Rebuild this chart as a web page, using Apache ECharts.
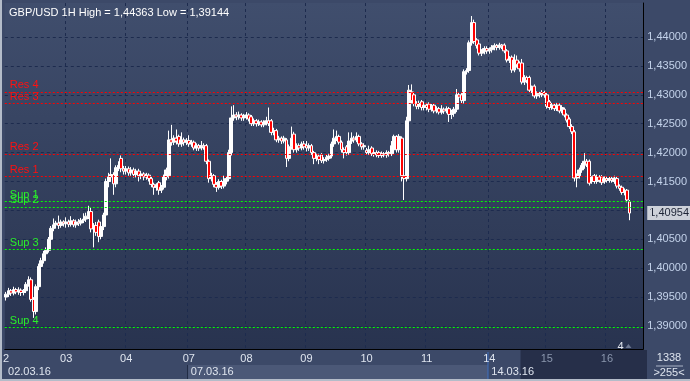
<!DOCTYPE html>
<html><head><meta charset="utf-8">
<script src="https://cdn.jsdelivr.net/npm/echarts@6/dist/echarts.min.js"></script>
<style>html,body{margin:0;padding:0;background:#3c4968;overflow:hidden}#c{width:690px;height:381px}</style>
</head><body><div id="c"></div>
<script>
// ---- data ----
const dayNames = ['02','03','04','07','08','09','10','11','14','15','16'];
const dayHours = [24,24,25,23,24,24,24,25,23,24,10];
const weekLabels = ['02.03.16','07.03.16','14.03.16'];
const weekDayIdx = [0,3,8];
const blankSlots = 5;

// each candle: [open, close, low, high]
const day02 = [[1.3950,1.3955,1.3944,1.3959],[1.3955,1.3961,1.3950,1.3966],[1.3961,1.3957,1.3952,1.3964],[1.3957,1.3963,1.3953,1.3968],[1.3963,1.3959,1.3955,1.3966],[1.3959,1.3962,1.3954,1.3967],[1.3962,1.3958,1.3952,1.3965],[1.3958,1.3961,1.3953,1.3964],[1.3961,1.3972,1.3957,1.3976],[1.3972,1.3980,1.3968,1.3986],[1.3980,1.3946,1.3942,1.3984],[1.3946,1.3925,1.3914,1.3950],[1.3925,1.3968,1.3920,1.3972],[1.3968,1.4003,1.3962,1.4008],[1.4003,1.4013,1.3998,1.4018],[1.4013,1.4025,1.4008,1.4030],[1.4025,1.4031,1.4020,1.4036],[1.4031,1.4050,1.4027,1.4054],[1.4050,1.4069,1.4046,1.4073],[1.4069,1.4075,1.4064,1.4086],[1.4075,1.4078,1.4070,1.4082],[1.4078,1.4074,1.4068,1.4091],[1.4074,1.4080,1.4070,1.4084],[1.4080,1.4077,1.4072,1.4083]];
const day03 = [[1.4077,1.4080,1.4070,1.4088],[1.4080,1.4076,1.4071,1.4084],[1.4076,1.4082,1.4072,1.4090],[1.4082,1.4075,1.4071,1.4085],[1.4075,1.4080,1.4070,1.4084],[1.4080,1.4078,1.4073,1.4085],[1.4078,1.4083,1.4074,1.4087],[1.4083,1.4085,1.4078,1.4095],[1.4085,1.4090,1.4080,1.4096],[1.4090,1.4098,1.4085,1.4108],[1.4098,1.4068,1.4062,1.4105],[1.4068,1.4074,1.4036,1.4078],[1.4074,1.4062,1.4056,1.4080],[1.4080,1.4055,1.4045,1.4084],[1.4055,1.4072,1.4050,1.4076],[1.4072,1.4092,1.4066,1.4096],[1.4092,1.4150,1.4088,1.4155],[1.4150,1.4158,1.4140,1.4165],[1.4158,1.4162,1.4150,1.4190],[1.4162,1.4146,1.4127,1.4166],[1.4146,1.4174,1.4140,1.4178],[1.4174,1.4178,1.4168,1.4185],[1.4190,1.4172,1.4166,1.4195],[1.4172,1.4168,1.4162,1.4177]];
const day04 = [[1.4168,1.4172,1.4162,1.4177],[1.4172,1.4165,1.4160,1.4176],[1.4165,1.4170,1.4160,1.4175],[1.4170,1.4162,1.4157,1.4174],[1.4162,1.4168,1.4157,1.4172],[1.4168,1.4160,1.4150,1.4172],[1.4160,1.4163,1.4154,1.4167],[1.4163,1.4158,1.4152,1.4166],[1.4158,1.4161,1.4153,1.4165],[1.4161,1.4155,1.4150,1.4164],[1.4155,1.4145,1.4140,1.4158],[1.4145,1.4140,1.4127,1.4148],[1.4140,1.4143,1.4134,1.4147],[1.4148,1.4135,1.4127,1.4151],[1.4135,1.4140,1.4130,1.4144],[1.4140,1.4158,1.4136,1.4162],[1.4158,1.4170,1.4152,1.4174],[1.4160,1.4222,1.4155,1.4238],[1.4222,1.4218,1.4212,1.4248],[1.4218,1.4225,1.4213,1.4230],[1.4225,1.4220,1.4214,1.4240],[1.4228,1.4215,1.4210,1.4231],[1.4215,1.4222,1.4210,1.4235],[1.4222,1.4218,1.4212,1.4226],[1.4218,1.4221,1.4213,1.4225]];
const day07 = [[1.4221,1.4215,1.4210,1.4230],[1.4215,1.4218,1.4210,1.4222],[1.4218,1.4208,1.4204,1.4221],[1.4208,1.4212,1.4203,1.4216],[1.4212,1.4208,1.4203,1.4215],[1.4208,1.4212,1.4204,1.4220],[1.4212,1.4210,1.4205,1.4216],[1.4212,1.4185,1.4180,1.4215],[1.4185,1.4155,1.4148,1.4188],[1.4155,1.4160,1.4150,1.4165],[1.4160,1.4145,1.4140,1.4163],[1.4145,1.4140,1.4132,1.4149],[1.4140,1.4150,1.4136,1.4154],[1.4150,1.4142,1.4137,1.4153],[1.4142,1.4150,1.4138,1.4160],[1.4150,1.4155,1.4145,1.4159],[1.4155,1.4200,1.4150,1.4205],[1.4200,1.4260,1.4195,1.4280],[1.4260,1.4265,1.4255,1.4282],[1.4265,1.4262,1.4256,1.4270],[1.4262,1.4265,1.4257,1.4271],[1.4265,1.4260,1.4255,1.4268],[1.4260,1.4262,1.4255,1.4267]];
const day08 = [[1.4262,1.4265,1.4257,1.4270],[1.4265,1.4258,1.4254,1.4268],[1.4262,1.4250,1.4246,1.4265],[1.4250,1.4255,1.4246,1.4259],[1.4255,1.4250,1.4245,1.4258],[1.4250,1.4253,1.4246,1.4257],[1.4253,1.4248,1.4244,1.4256],[1.4248,1.4252,1.4244,1.4256],[1.4252,1.4255,1.4247,1.4262],[1.4255,1.4250,1.4246,1.4278],[1.4255,1.4235,1.4230,1.4258],[1.4235,1.4238,1.4230,1.4243],[1.4238,1.4222,1.4218,1.4241],[1.4222,1.4225,1.4217,1.4229],[1.4225,1.4220,1.4215,1.4228],[1.4220,1.4225,1.4216,1.4229],[1.4222,1.4190,1.4175,1.4225],[1.4190,1.4210,1.4185,1.4214],[1.4210,1.4225,1.4205,1.4245],[1.4232,1.4205,1.4200,1.4236],[1.4205,1.4212,1.4200,1.4216],[1.4212,1.4208,1.4203,1.4216],[1.4208,1.4215,1.4204,1.4219],[1.4215,1.4210,1.4205,1.4220]];
const day09 = [[1.4212,1.4208,1.4202,1.4220],[1.4208,1.4212,1.4203,1.4216],[1.4212,1.4200,1.4196,1.4215],[1.4200,1.4190,1.4180,1.4203],[1.4190,1.4194,1.4185,1.4198],[1.4194,1.4188,1.4180,1.4198],[1.4196,1.4186,1.4182,1.4199],[1.4186,1.4188,1.4181,1.4192],[1.4188,1.4192,1.4184,1.4196],[1.4190,1.4194,1.4186,1.4198],[1.4194,1.4215,1.4190,1.4219],[1.4215,1.4225,1.4210,1.4240],[1.4225,1.4228,1.4220,1.4238],[1.4228,1.4218,1.4214,1.4231],[1.4218,1.4205,1.4200,1.4221],[1.4205,1.4200,1.4190,1.4209],[1.4210,1.4200,1.4195,1.4213],[1.4200,1.4220,1.4196,1.4235],[1.4220,1.4225,1.4215,1.4235],[1.4225,1.4222,1.4217,1.4229],[1.4222,1.4228,1.4218,1.4235],[1.4228,1.4215,1.4211,1.4231],[1.4215,1.4210,1.4205,1.4218],[1.4210,1.4212,1.4205,1.4216]];
const day10 = [[1.4204,1.4200,1.4196,1.4208],[1.4200,1.4205,1.4196,1.4212],[1.4208,1.4198,1.4194,1.4211],[1.4198,1.4200,1.4193,1.4204],[1.4200,1.4196,1.4192,1.4204],[1.4200,1.4195,1.4191,1.4203],[1.4195,1.4198,1.4191,1.4202],[1.4198,1.4196,1.4192,1.4201],[1.4196,1.4200,1.4191,1.4204],[1.4200,1.4198,1.4193,1.4203],[1.4198,1.4212,1.4194,1.4220],[1.4205,1.4228,1.4200,1.4231],[1.4228,1.4205,1.4200,1.4230],[1.4205,1.4228,1.4200,1.4232],[1.4225,1.4160,1.4150,1.4228],[1.4160,1.4155,1.4118,1.4164],[1.4155,1.4255,1.4150,1.4262],[1.4255,1.4308,1.4250,1.4317],[1.4305,1.4290,1.4285,1.4318],[1.4300,1.4285,1.4280,1.4304],[1.4285,1.4280,1.4275,1.4289],[1.4280,1.4285,1.4275,1.4290],[1.4288,1.4278,1.4273,1.4291],[1.4278,1.4282,1.4273,1.4286]];
const day11 = [[1.4282,1.4278,1.4273,1.4286],[1.4284,1.4275,1.4270,1.4287],[1.4275,1.4280,1.4271,1.4284],[1.4282,1.4272,1.4268,1.4285],[1.4272,1.4276,1.4268,1.4280],[1.4276,1.4270,1.4266,1.4279],[1.4270,1.4275,1.4266,1.4282],[1.4275,1.4272,1.4267,1.4278],[1.4272,1.4276,1.4268,1.4280],[1.4276,1.4266,1.4253,1.4279],[1.4266,1.4270,1.4258,1.4274],[1.4268,1.4275,1.4262,1.4279],[1.4275,1.4300,1.4270,1.4310],[1.4300,1.4296,1.4290,1.4304],[1.4300,1.4290,1.4285,1.4303],[1.4290,1.4340,1.4285,1.4344],[1.4340,1.4342,1.4335,1.4346],[1.4342,1.4390,1.4338,1.4394],[1.4390,1.4425,1.4385,1.44363],[1.4425,1.4392,1.4388,1.4430],[1.4395,1.4385,1.4380,1.4398],[1.4388,1.4372,1.4368,1.4390],[1.4372,1.4375,1.4367,1.4379],[1.4375,1.4380,1.4370,1.4384],[1.4380,1.4376,1.4371,1.4384]];
const day14 = [[1.4376,1.4378,1.4371,1.4382],[1.4378,1.4382,1.4373,1.4386],[1.4382,1.4385,1.4377,1.4389],[1.4385,1.4382,1.4377,1.4388],[1.4382,1.4386,1.4378,1.4390],[1.4386,1.4384,1.4379,1.4388],[1.4386,1.4376,1.4372,1.4389],[1.4376,1.4360,1.4356,1.4379],[1.4360,1.4362,1.4355,1.4367],[1.4365,1.4343,1.4338,1.4368],[1.4343,1.4360,1.4339,1.4370],[1.4360,1.4352,1.4347,1.4368],[1.4355,1.4345,1.4340,1.4358],[1.4355,1.4322,1.4318,1.4362],[1.4322,1.4330,1.4317,1.4334],[1.4330,1.4325,1.4320,1.4333],[1.4330,1.4308,1.4303,1.4333],[1.4308,1.4312,1.4303,1.4316],[1.4315,1.4298,1.4294,1.4318],[1.4298,1.4302,1.4293,1.4306],[1.4302,1.4300,1.4295,1.4305],[1.4300,1.4304,1.4296,1.4308],[1.4304,1.4300,1.4295,1.4307]];
const day15 = [[1.4300,1.4280,1.4276,1.4303],[1.4288,1.4278,1.4274,1.4291],[1.4278,1.4282,1.4274,1.4286],[1.4282,1.4276,1.4272,1.4285],[1.4276,1.4282,1.4272,1.4286],[1.4282,1.4272,1.4268,1.4285],[1.4272,1.4278,1.4268,1.4282],[1.4275,1.4265,1.4261,1.4278],[1.4265,1.4256,1.4252,1.4268],[1.4258,1.4245,1.4241,1.4261],[1.4245,1.4236,1.4232,1.4249],[1.4236,1.4156,1.4150,1.4239],[1.4156,1.4160,1.4140,1.4164],[1.4160,1.4170,1.4155,1.4174],[1.4170,1.4178,1.4165,1.4182],[1.4178,1.4185,1.4172,1.4199],[1.4185,1.4180,1.4175,1.4189],[1.4185,1.4147,1.4143,1.4188],[1.4150,1.4155,1.4146,1.4159],[1.4160,1.4150,1.4146,1.4163],[1.4150,1.4158,1.4146,1.4162],[1.4158,1.4152,1.4148,1.4161],[1.4158,1.4148,1.4144,1.4161],[1.4150,1.4155,1.4146,1.4159]];
const day16 = [[1.4155,1.4152,1.4148,1.4159],[1.4152,1.4155,1.4148,1.4159],[1.4155,1.4152,1.4148,1.4158],[1.4150,1.4156,1.4146,1.4160],[1.4155,1.4142,1.4138,1.4158],[1.4142,1.4138,1.4134,1.4145],[1.4140,1.4131,1.4127,1.4143],[1.4131,1.4134,1.4126,1.4138],[1.4135,1.4118,1.4114,1.4137],[1.4115,1.40954,1.4083,1.4118]];

const resNames = ['Res 4','Res 3','Res 2','Res 1'];
const resValues = [1.4305,1.4285,1.4198,1.4159];
const supNames = ['Sup 1','Sup 2','Sup 3','Sup 4'];
const supValues = [1.4116,1.4106,1.4033,1.3897];
const priceTicks = [1.39,1.395,1.40,1.405,1.41,1.415,1.42,1.425,1.43,1.435,1.44];
const priceLabels = [1.39,1.395,1.40,1.405,1.415,1.42,1.425,1.43,1.435,1.44];
const lastPrice = 1.40954;
const titleText = 'GBP/USD 1H High = 1,44363 Low = 1,39144';
const cornerTop = '1338', cornerBottom = '>255<';
const yMin = 1.386021, yMax = 1.445882;

// ---- build ----
const days = [day02,day03,day04,day07,day08,day09,day10,day11,day14,day15,day16];
const candles = [].concat(...days);
const categories = [];
const dayStart = {};
let idx = 0;
dayNames.forEach((d, k) => {
  dayStart[idx] = k;
  for (let h = 0; h < dayHours[k]; h++) { categories.push(d + ' ' + h); idx++; }
});
for (let b = 0; b < blankSlots; b++) categories.push('');
const dayStartIdx = Object.keys(dayStart).map(Number);
const weekStart = {};
weekDayIdx.forEach((k, w) => { weekStart[dayStartIdx[k]] = weekLabels[w]; });
const darkFrom = 206; // category where greyed zone starts

const FONT = "'Liberation Sans Narrow','Liberation Sans',Arial,sans-serif";
const fmt = v => v.toFixed(5).replace('.', ',');

const chart = echarts.init(document.getElementById('c'), null, {renderer: 'canvas'});
const mk = (names, vals, lineColor, textColor) => names.map((n, i) => ({
  name: n, yAxis: vals[i],
  lineStyle: {color: lineColor, type: [2, 2], width: 1, opacity: 1},
  label: {show: true, position: 'insideStartTop', formatter: '{b}', color: textColor,
          fontSize: 11, fontFamily: "'Liberation Sans',Arial,sans-serif", distance: [5, 1]}
}));

chart.setOption({
  animation: false,
  backgroundColor: '#3c4968',
  title: {text: titleText, left: 4, top: 2,
          textStyle: {color: '#ffffff', fontSize: 11, fontWeight: 'normal', fontFamily: FONT}},
  grid: {left: 3, right: 43, top: 3, bottom: 32, show: true, borderWidth: 0,
         backgroundColor: {type: 'linear', x: 0, y: 0, x2: 0, y2: 1,
           colorStops: [{offset: 0, color: '#404e6d'}, {offset: 1, color: '#28334f'}]}},
  xAxis: [{
    type: 'category', data: categories, boundaryGap: true,
    axisLine: {show: true, lineStyle: {color: '#000000', width: 1}},
    axisTick: {show: false},
    axisLabel: {
      interval: i => dayStart[i] !== undefined,
      formatter: (v, i) => {
        const k = dayStart[i];
        if (k === undefined) return '';
        const t = i === 0 ? dayNames[k].slice(1) : dayNames[k];
        return i >= darkFrom ? '{dim|' + t + '}' : t;
      },
      color: '#dfe5ef', fontSize: 11, fontFamily: FONT, margin: 4,
      rich: {dim: {color: '#8a96ad', fontSize: 11, fontFamily: FONT}}
    },
    splitLine: {show: true, interval: i => i > 0 && dayStart[i] !== undefined,
                lineStyle: {color: '#1d2b4e', type: [3, 3], width: 1}}
  }, {
    type: 'category', data: categories, boundaryGap: true, position: 'bottom', offset: 12,
    axisLine: {show: false}, axisTick: {show: false}, splitLine: {show: false},
    axisLabel: {
      interval: i => weekStart[i] !== undefined,
      formatter: (v, i) => weekStart[i] || '',
      align: 'left', padding: [0, 0, 0, 2],
      color: '#dfe5ef', fontSize: 11, fontFamily: FONT, margin: 5
    }
  }],
  yAxis: {
    type: 'value', position: 'right', min: yMin, max: yMax, scale: true,
    axisLine: {show: true, lineStyle: {color: '#000000', width: 1}},
    axisTick: {show: false, customValues: priceTicks},
    axisLabel: {customValues: priceLabels, formatter: fmt, color: '#c3d2ea',
                fontSize: 11, fontFamily: FONT, margin: 4},
    splitLine: {show: true, lineStyle: {color: '#1d2b4e', type: [3, 3], width: 1}}
  },
  series: [{
    type: 'candlestick', data: candles, barWidth: 3.4,
    itemStyle: {color: '#ffffff', color0: '#ff0000', borderColor: '#ffffff',
                borderColor0: '#ffffff', borderWidth: 1},
    markLine: {
      silent: true, symbol: ['none', 'none'], animation: false, precision: 5,
      emphasis: {disabled: true},
      data: [].concat(
        mk(resNames, resValues, '#ff0000', '#ff1010'),
        mk(supNames, supValues, '#00ff00', '#2af02a'),
        [{name: 'last', yAxis: lastPrice, lineStyle: {color: 'rgba(0,0,0,0)', width: 0},
          label: {show: true, position: 'end', formatter: () => fmt(lastPrice),
                  backgroundColor: '#cdd1d9', color: '#1d2436', padding: [2, 2, 1, 2],
                  fontSize: 11, fontFamily: FONT, distance: 4}}]
      )
    }
  }]
});

// ---- decorations tied to the axes ----
const slot = (690 - 43 - 3) / categories.length;
const bx = i => chart.convertToPixel({xAxisIndex: 0}, i) - slot / 2;
const x07 = bx(dayStartIdx[weekDayIdx[1]]);
const x14 = bx(dayStartIdx[weekDayIdx[2]]);
const xDark = bx(darkFrom);
const plotR = 647, axisY = 349;
const lastX = chart.convertToPixel({xAxisIndex: 0}, candles.length - 1);
const lastY = chart.convertToPixel({yAxisIndex: 0}, lastPrice);
chart.setOption({graphic: [
  {type: 'rect', z: -1, shape: {x: 3, y: axisY + 1, width: plotR - 3, height: 30}, style: {fill: '#3c4968'}},
  {type: 'rect', z: -1, shape: {x: x07, y: 365, width: x14 - x07, height: 14}, style: {fill: '#4b5877'}},
  {type: 'line', shape: {x1: x07, y1: 365, x2: x07, y2: 379}, style: {stroke: '#202b44', lineWidth: 1}},
  {type: 'rect', z: -1, shape: {x: xDark, y: axisY + 1, width: plotR - xDark, height: 29}, style: {fill: '#262f49'}},
  {type: 'line', shape: {x1: x14, y1: 352, x2: x14, y2: 379}, style: {stroke: '#3f6fc0', lineWidth: 1}},
  {type: 'rect', shape: {x: 0, y: 0, width: 2, height: 381}, style: {fill: '#b4bcc9'}},
  {type: 'rect', shape: {x: 0, y: 379, width: 690, height: 2}, style: {fill: '#b4bcc9'}},
  {type: 'text', x: 669, y: 352, style: {text: cornerTop, fill: '#dfe5ef', font: '11px ' + FONT, textAlign: 'center'}},
  {type: 'line', shape: {x1: 656, y1: 366, x2: 683, y2: 366}, style: {stroke: '#aab4c6', lineWidth: 1}},
  {type: 'text', x: 669, y: 367, style: {text: cornerBottom, fill: '#dfe5ef', font: '11px ' + FONT, textAlign: 'center'}},
  {type: 'polygon', z: 100, shape: {points: [[plotR + 1, lastY], [plotR + 5, lastY - 5], [plotR + 5, lastY + 5]]}, style: {fill: '#cdd1d9'}},
  {type: 'text', x: lastX - 12, y: 341, style: {text: '4', fill: '#e3e7ef', font: '11px ' + FONT}},
  {type: 'polygon', shape: {points: [[lastX - 4, 348], [lastX - 1, 344], [lastX + 2, 348]]}, style: {fill: '#6d7891'}}
]});
</script></body></html>
